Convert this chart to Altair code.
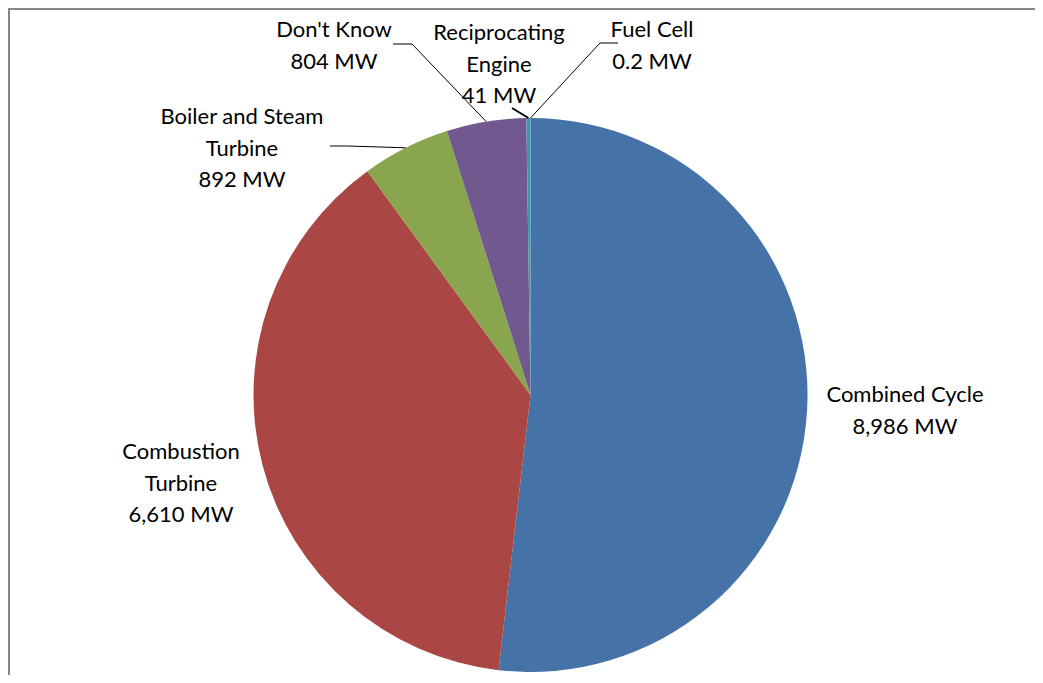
import altair as alt
import pandas as pd
import numpy as np

# ---- data ----
categories = ["Combined Cycle", "Combustion Turbine", "Boiler and Steam Turbine",
              "Don't Know", "Reciprocating Engine", "Fuel Cell"]
values = [8986, 6610, 892, 804, 41, 0.2]
value_labels = ["8,986 MW", "6,610 MW", "892 MW", "804 MW", "41 MW", "0.2 MW"]
name_lines = ["Combined Cycle", "Combustion\nTurbine", "Boiler and Steam\nTurbine",
              "Don't Know", "Reciprocating\nEngine", "Fuel Cell"]
colors = ["#4572A7", "#AA4643", "#89A54E", "#71588F", "#4198AF", "#DB843D"]

# ---- layout (chart pixel coords) ----
W, H = 1027, 667
CX, CY, R = 522.5, 387, 277
FONT = "Lato"
FS = 22
LH = 31.5
label_pos = {  # centre x and first-line y of each label block
    "Combined Cycle": (897, 387),
    "Combustion Turbine": (173, 444),
    "Boiler and Steam Turbine": (234, 109),
    "Don't Know": (326, 22),
    "Reciprocating Engine": (491, 25),
    "Fuel Cell": (644, 22),
}
leader_start = {  # leader polyline points before reaching the slice edge
    "Boiler and Steam Turbine": [(322, 138), (339, 138)],
    "Don't Know": [(385, 36), (404, 36)],
    "Reciprocating Engine": [(504, 100)],
    "Fuel Cell": [(610, 35), (592, 35)],
}

df = pd.DataFrame({"category": categories, "value": values, "order": range(len(values))})

# mid angles derived from the data
vals = np.array(values, dtype=float)
cum = np.cumsum(vals)
mid = (cum - vals / 2) / vals.sum() * 2 * np.pi
mid_by_cat = dict(zip(categories, mid))

lab = pd.DataFrame({
    "category": categories,
    "text": [n + "\n" + v for n, v in zip(name_lines, value_labels)],
    "x": [label_pos[c][0] for c in categories],
    "y": [label_pos[c][1] for c in categories],
})

rows = []
for c, pts in leader_start.items():
    a = mid_by_cat[c]
    edge = (CX + R * np.sin(a), CY - R * np.cos(a))
    for i, p in enumerate(pts + [edge]):
        rows.append({"category": c, "i": i, "x": p[0], "y": p[1],
                     "w": 2 if c == "Reciprocating Engine" else 1})
lead = pd.DataFrame(rows)

pie = alt.Chart(df).mark_arc(outerRadius=R).encode(
    theta=alt.Theta("value:Q", stack=True),
    color=alt.Color("category:N", scale=alt.Scale(domain=categories, range=colors), legend=None),
    order=alt.Order("order:Q"),
    x=alt.value(CX), y=alt.value(CY),
)

leaders = alt.Chart(lead).mark_line(color="#000000").encode(
    x=alt.X("x:Q", scale=None, axis=None),
    y=alt.Y("y:Q", scale=None, axis=None),
    detail="category:N",
    order="i:Q",
    strokeWidth=alt.StrokeWidth("w:Q", scale=None),
)

labels = alt.Chart(lab).mark_text(
    font=FONT, fontSize=FS, lineBreak="\n", lineHeight=LH,
    align="center", baseline="middle", color="#000000"
).encode(
    x=alt.X("x:Q", scale=None, axis=None),
    y=alt.Y("y:Q", scale=None, axis=None),
    text="text:N",
)

border_top = alt.Chart(df).mark_rule(color="#868686", strokeWidth=2).encode(
    x=alt.value(0), x2=alt.value(W), y=alt.value(1))
border_left = alt.Chart(df).mark_rule(color="#868686", strokeWidth=2).encode(
    x=alt.value(1), y=alt.value(0), y2=alt.value(H))

chart = alt.layer(pie, leaders, labels, border_top, border_left).properties(
    width=W, height=H, padding=0, autosize=alt.AutoSizeParams(type="none")
).configure_view(stroke=None)

chart.save("out.html", embed_options={"renderer": "svg", "actions": False})
